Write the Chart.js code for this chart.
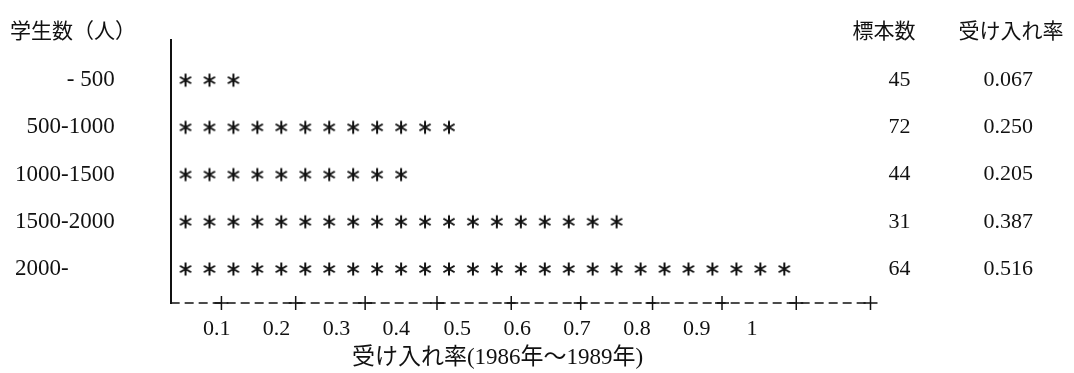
<!DOCTYPE html>
<html>
<head>
<meta charset="utf-8">
<script src="https://cdn.jsdelivr.net/npm/chart.js@4"></script>
<style>
  body { margin: 0; background: #fff; }
</style>
</head>
<body>
<canvas id="chart" width="1074" height="373"></canvas>
<script>
// rows (student count groups), top to bottom
const groups = ["- 500", "500-1000", "1000-1500", "1500-2000", "2000-"];
const samples = [45, 72, 44, 31, 64];
const rates = ["0.067", "0.250", "0.205", "0.387", "0.516"];
// number of asterisks printed in each row
const starCounts = [3, 12, 10, 19, 26];
// x axis: positions (in asterisk columns) of the "+" marks and of the labels
const plusPos = [2.5, 5.6, 8.5, 11.5, 14.6, 17.5, 20.5, 23.4, 26.5, 29.6];
const tickPos = [2.3, 4.8, 7.3, 9.8, 12.35, 14.85, 17.35, 19.85, 22.35, 24.65];
const tickLabels = ["0.1", "0.2", "0.3", "0.4", "0.5", "0.6", "0.7", "0.8", "0.9", "1"];

const FONT = "'Liberation Serif', 'Noto Sans CJK JP', serif";
const X_MIN = 0.38, X_MAX = 29.6;
const Y_MIN = -0.85, Y_MAX = 4.72;
const NB = "\u00a0";

// asterisk glyph used as point style
const star = document.createElement("canvas");
star.width = 16; star.height = 16;
(() => {
  const c = star.getContext("2d");
  c.strokeStyle = "#111";
  c.lineWidth = 2;
  c.beginPath();
  c.moveTo(8, 1.5); c.lineTo(8, 14.5);
  c.moveTo(2.4, 4.75); c.lineTo(13.6, 11.25);
  c.moveTo(2.4, 11.25); c.lineTo(13.6, 4.75);
  c.stroke();
})();

const starPoints = [];
starCounts.forEach((n, r) => {
  for (let i = 1; i <= n; i++) starPoints.push({ x: i, y: r });
});

const headers = {
  id: "headers",
  afterDraw(chart) {
    const ctx = chart.ctx;
    ctx.save();
    ctx.fillStyle = "#111";
    ctx.textBaseline = "middle";
    ctx.font = "21px " + FONT;
    ctx.textAlign = "left";
    ctx.fillText("学生数（人）", 10, 32);
    ctx.textAlign = "center";
    ctx.fillText("標本数", 884, 32);
    ctx.fillText("受け入れ率", 1011, 32);
    ctx.restore();
  }
};

// invisible tick marks are used only as spacing between axis line and labels
const gap = (len) => ({ display: true, drawOnChartArea: false, drawTicks: true,
                        tickLength: len, tickColor: "rgba(0,0,0,0)" });
const rowTicks = (axis) => { axis.ticks = groups.map((_, i) => ({ value: i })); };
const sideAxis = (labels, len, weight) => ({
  type: "linear", position: "right", reverse: true, min: Y_MIN, max: Y_MAX, weight: weight,
  afterBuildTicks: rowTicks,
  grid: gap(len),
  border: { display: false },
  ticks: { padding: 0, color: "#111", font: { family: FONT, size: 22 },
           callback: (v) => labels[v] }
});

new Chart(document.getElementById("chart"), {
  type: "scatter",
  data: {
    datasets: [
      { data: starPoints, pointStyle: star, pointRadius: 8, yAxisID: "y" },
      // dashed base line of the text-style axis
      { type: "line", data: [{ x: X_MIN, y: Y_MAX }, { x: X_MAX, y: Y_MAX }],
        borderColor: "#111", borderWidth: 1.3, borderDash: [9, 5], pointRadius: 0,
        clip: false, yAxisID: "y" },
      { data: plusPos.map((x) => ({ x: x, y: Y_MAX })), pointStyle: "cross",
        pointRadius: 7, borderColor: "#111", borderWidth: 1.5, clip: false, yAxisID: "y" }
    ]
  },
  options: {
    responsive: false,
    animation: false,
    layout: { padding: { top: 40, left: 15, right: 41, bottom: 0 } },
    plugins: { legend: { display: false }, tooltip: { enabled: false } },
    scales: {
      x: {
        type: "linear", min: X_MIN, max: X_MAX,
        afterBuildTicks: (axis) => { axis.ticks = tickPos.map((v) => ({ value: v })); },
        grid: gap(13),
        border: { display: false },
        ticks: { padding: 0, color: "#111", maxRotation: 0, autoSkip: false,
                 font: { family: FONT, size: 22 },
                 callback: (v, i) => tickLabels[i] },
        title: { display: true, text: "受け入れ率(1986年～1989年)" + NB.repeat(8), color: "#111",
                 font: { family: FONT, size: 23 }, padding: { top: 2, bottom: 1 } }
      },
      y: {
        type: "linear", position: "left", reverse: true, min: Y_MIN, max: Y_MAX,
        afterBuildTicks: rowTicks,
        grid: gap(56),
        border: { color: "#111", width: 2 },
        ticks: { padding: 0, color: "#111", font: { family: FONT, size: 23 },
                 callback: (v) => v === 4 ? groups[v] + NB.repeat(8) : groups[v] }
      },
      y2: sideAxis(samples, 18, 0),
      y3: sideAxis(rates, 73, 1)
    }
  },
  plugins: [headers]
});
</script>
</body>
</html>
